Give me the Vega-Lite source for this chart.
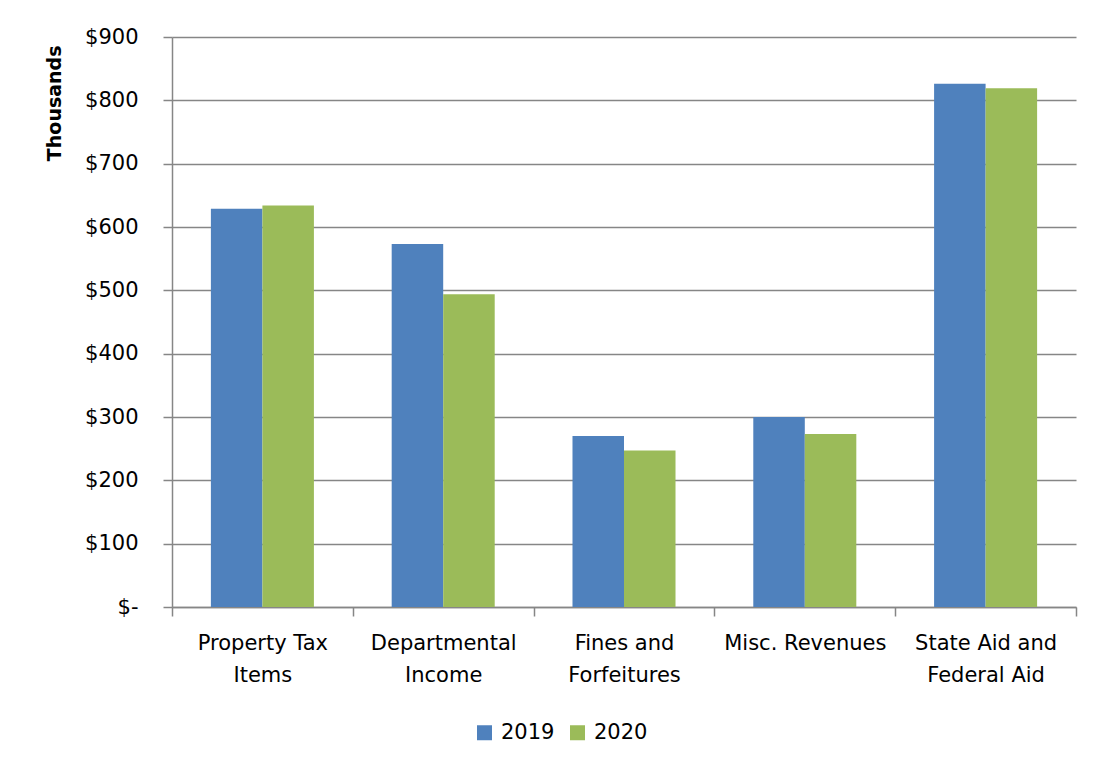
{
  "$schema": "https://vega.github.io/schema/vega-lite/v6.json",
  "width": 904,
  "height": 570,
  "autosize": {"type": "none"},
  "padding": {"left": 172, "top": 37, "right": 22, "bottom": 160},
  "background": "white",
  "config": {
    "font": "DejaVu Sans",
    "view": {"stroke": null},
    "axis": {"labelFont": "DejaVu Sans", "titleFont": "DejaVu Sans"},
    "legend": {"labelFont": "DejaVu Sans"}
  },
  "data": {
    "values": [
      {"category": "Property Tax Items", "year": "2019", "amount": 629},
      {"category": "Property Tax Items", "year": "2020", "amount": 634},
      {"category": "Departmental Income", "year": "2019", "amount": 573},
      {"category": "Departmental Income", "year": "2020", "amount": 494},
      {"category": "Fines and Forfeitures", "year": "2019", "amount": 270},
      {"category": "Fines and Forfeitures", "year": "2020", "amount": 247},
      {"category": "Misc. Revenues", "year": "2019", "amount": 300},
      {"category": "Misc. Revenues", "year": "2020", "amount": 273},
      {"category": "State Aid and Federal Aid", "year": "2019", "amount": 826},
      {"category": "State Aid and Federal Aid", "year": "2020", "amount": 819}
    ]
  },
  "mark": {"type": "bar"},
  "encoding": {
    "x": {
      "field": "category",
      "type": "nominal",
      "sort": null,
      "scale": {"paddingInner": 0, "paddingOuter": 0},
      "axis": {
        "title": null,
        "labelAngle": 0,
        "labelExpr": "datum.value == 'Property Tax Items' ? ['Property Tax', 'Items'] : datum.value == 'Departmental Income' ? ['Departmental', 'Income'] : datum.value == 'Fines and Forfeitures' ? ['Fines and', 'Forfeitures'] : datum.value == 'State Aid and Federal Aid' ? ['State Aid and', 'Federal Aid'] : datum.value",
        "labelFontSize": 21,
        "labelColor": "#000000",
        "labelPadding": 16,
        "labelLineHeight": 32,
        "tickBand": "extent",
        "tickSize": 9,
        "tickColor": "#868686",
        "tickWidth": 1.5,
        "domainColor": "#868686",
        "domainWidth": 1.5,
        "grid": false
      }
    },
    "xOffset": {"field": "year", "type": "nominal", "scale": {"paddingInner": 0, "paddingOuter": 0.755}},
    "y": {
      "field": "amount",
      "type": "quantitative",
      "scale": {"domain": [0, 900], "nice": false},
      "axis": {
        "title": "Thousands",
        "titleFontSize": 19,
        "titleFontWeight": "bold",
        "titleColor": "#000000",
        "titleAnchor": "end",
        "titlePadding": 20,
        "titleY": 8,
        "values": [0, 100, 200, 300, 400, 500, 600, 700, 800, 900],
        "labelExpr": "datum.value == 0 ? '$-' : '$' + datum.value",
        "labelFontSize": 21,
        "labelColor": "#000000",
        "labelPadding": 25,
        "tickSize": 9,
        "tickColor": "#868686",
        "tickWidth": 1.5,
        "domainColor": "#868686",
        "domainWidth": 1.5,
        "gridColor": "#868686",
        "gridWidth": 1.5
      }
    },
    "color": {
      "field": "year",
      "type": "nominal",
      "scale": {"domain": ["2019", "2020"], "range": ["#4F81BD", "#9BBB59"]},
      "legend": {
        "title": null,
        "orient": "none",
        "direction": "horizontal",
        "legendX": 302,
        "legendY": 685,
        "symbolType": "square",
        "symbolSize": 225,
        "symbolStrokeWidth": 0,
        "labelFontSize": 21,
        "labelColor": "#000000",
        "columnPadding": 12,
        "labelOffset": 6
      }
    }
  }
}
